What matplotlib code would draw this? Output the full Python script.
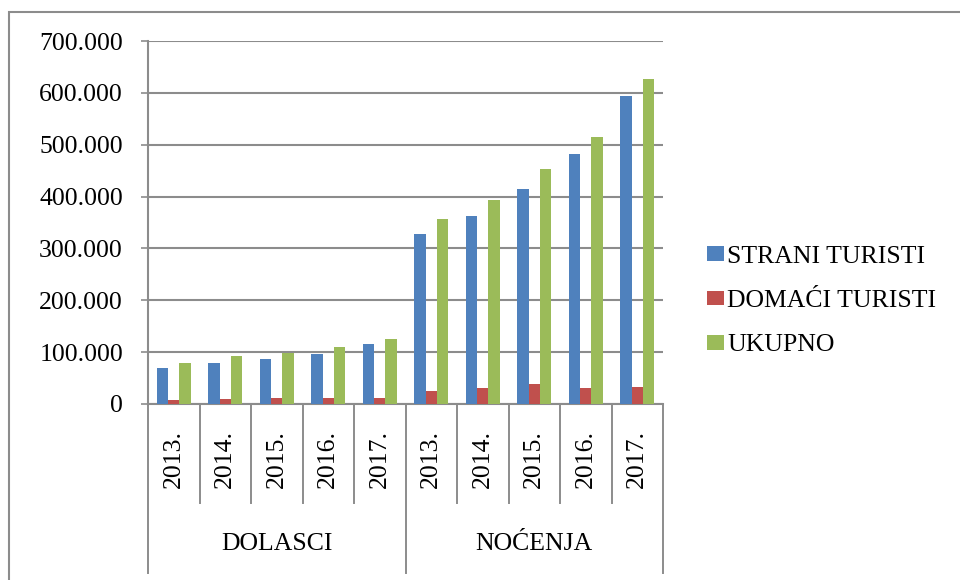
import matplotlib
matplotlib.use('Agg')
import numpy as np
import matplotlib.pyplot as plt
import matplotlib.ticker as ticker
from matplotlib.patches import Rectangle, Patch

plt.rcParams['font.family'] = ['Liberation Serif', 'DejaVu Serif']
plt.rcParams['font.size'] = 18.5

# podaci
grupe = ['DOLASCI', 'NOĆENJA']
godine = ['2013.', '2014.', '2015.', '2016.', '2017.']
strani = [70000, 80000, 87000, 97000, 115000, 328000, 362000, 414000, 482000, 594000]
domaci = [8500, 10000, 11000, 12000, 11000, 26000, 30000, 38000, 30000, 32000]
ukupno = [79000, 92000, 99000, 110000, 126000, 356000, 393000, 453000, 514000, 627000]
serije = ['STRANI TURISTI', 'DOMAĆI TURISTI', 'UKUPNO']
boje = ['#4F81BD', '#C0504D', '#9BBB59']
siva = '#8C8C8C'

W, H = 960, 580
fig = plt.figure(figsize=(W / 100, H / 100), dpi=100)
ax = fig.add_axes([148 / W, 1 - 404 / H, (663 - 148) / W, (404 - 41) / H])

x = np.arange(len(strani))
w = 0.223
for k, (vals, c) in enumerate(zip([strani, domaci, ukupno], boje)):
    ax.bar(x + (k - 1) * w, vals, width=w, color=c, zorder=3)

ax.set_xlim(-0.5, len(strani) - 0.5)
ax.set_ylim(0, 700000)
ax.yaxis.set_major_locator(ticker.MultipleLocator(100000))
ax.yaxis.set_major_formatter(ticker.FuncFormatter(lambda v, p: f"{v:,.0f}".replace(',', '.')))
ax.grid(axis='y', color=siva, lw=1.5, zorder=0)
ax.tick_params(axis='y', length=5, width=1.2, color=siva, pad=13)
ax.set_xticks([])
for s in ['top', 'right']:
    ax.spines[s].set_visible(False)
for s in ['left', 'bottom']:
    ax.spines[s].set_color(siva)
    ax.spines[s].set_linewidth(1.5)

# visestruka kategorijska os
tr = ax.get_xaxis_transform()
y_god = (404 - 503) / (404 - 41)
y_grp = (404 - 573) / (404 - 41)
for i in range(len(strani) + 1):
    xs = i - 0.5
    dno = y_grp if i % 5 == 0 else y_god
    ax.plot([xs, xs], [0, dno], transform=tr, color=siva, lw=1.4, clip_on=False)
for i in range(len(strani)):
    ax.text(i, (404 - 459) / (404 - 41), godine[i % 5], transform=tr, rotation=90,
            ha='center', va='center')
for g, naziv in enumerate(grupe):
    ax.text(g * 5 + 2, (404 - 544) / (404 - 41), naziv, transform=tr,
            ha='center', va='center')

# legenda
rucke = [Patch(facecolor=c, edgecolor='none') for c in boje]
fig.legend(rucke, serije, loc='center left', bbox_to_anchor=(694 / W, 1 - 301 / H),
           frameon=False, borderpad=0, handlelength=0.68, handleheight=0.5,
           handletextpad=0.12, labelspacing=0.87)

# okvir
fig.add_artist(Rectangle((9 / W, -0.1), 2, 1 - 12 / H + 0.1, transform=fig.transFigure,
                         fill=False, edgecolor=siva, lw=1.5))

fig.savefig('out.png', dpi=100)
